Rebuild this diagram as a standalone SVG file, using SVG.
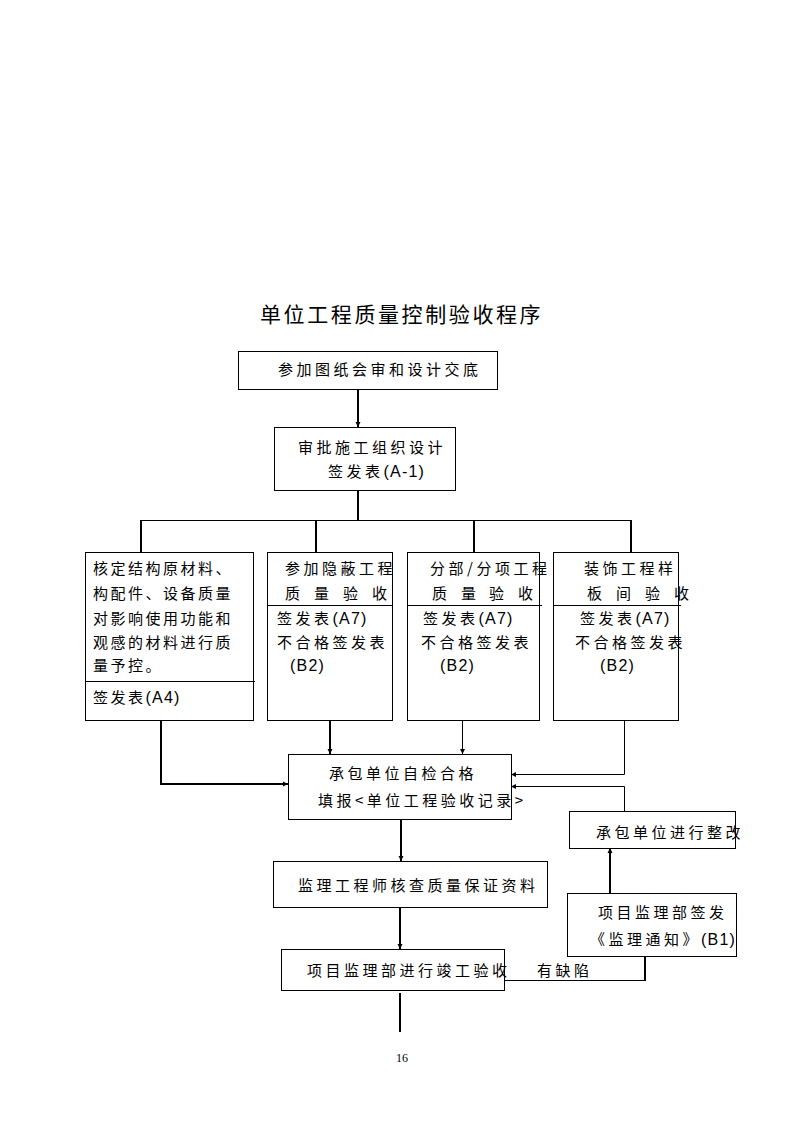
<svg xmlns="http://www.w3.org/2000/svg" width="794" height="1123" viewBox="0 0 794 1123">
<defs>
<style>
.box{fill:#fff;stroke:#000;stroke-width:1}
.t{font-family:"Noto Sans CJK SC","Noto Sans",sans-serif;font-size:15px;letter-spacing:3.5px;fill:#000}
.ta{font-family:"Noto Sans CJK SC","Noto Sans",sans-serif;font-size:15px;letter-spacing:2.5px;fill:#000}
.l{letter-spacing:1.2px;font-family:"Liberation Sans","Noto Sans",sans-serif;font-size:16px}
.title{font-family:"Noto Sans CJK SC","Noto Sans",sans-serif;font-size:21px;letter-spacing:2.6px;fill:#000}
.thick{fill:none;stroke:#000;stroke-width:2}
.thin{fill:none;stroke:#000;stroke-width:1}
.div{stroke:#000;stroke-width:1}
.pg{font-family:"Liberation Serif",serif;font-size:12px;fill:#000}
</style>
<marker id="ah" markerUnits="userSpaceOnUse" markerWidth="6" markerHeight="6" refX="5" refY="3" orient="auto">
<path d="M0,0.5 L5,3 L0,5.5 Z" fill="#000"/>
</marker>
</defs>
<rect width="794" height="1123" fill="#fff"/>
<text class="title" x="260" y="322">单位工程质量控制验收程序</text>

<g id="connectors">
<path class="thick" d="M358 389 V427" marker-end="url(#ah)"/>
<path class="thick" d="M358 490 V520"/>
<path class="thin" d="M141 520.5 H632"/>
<path class="thick" d="M141 520 V552"/>
<path class="thick" d="M316 520 V552"/>
<path class="thick" d="M474 520 V552"/>
<path class="thick" d="M631 520 V552"/>
<path class="thick" d="M161 720 V784 H288" marker-end="url(#ah)"/>
<path class="thick" d="M330 720 V754" marker-end="url(#ah)"/>
<path class="thin" d="M462.5 720 V754" marker-end="url(#ah)"/>
<path class="thin" d="M624.5 720 V774.5 H511" marker-end="url(#ah)"/>
<path class="thin" d="M624.5 811 V786.5 H511" marker-end="url(#ah)"/>
<path class="thick" d="M401 819 V861" marker-end="url(#ah)"/>
<path class="thick" d="M400 907 V949" marker-end="url(#ah)"/>
<path class="thin" d="M504 980.5 H645"/>
<path class="thick" d="M645 981 V956"/>
<path class="thick" d="M610 893 V848" marker-end="url(#ah)"/>
<path class="thick" d="M400 993 V1032"/>
</g>

<g id="n1">
<rect class="box" x="238.5" y="351.5" width="259" height="38"/>
<text class="t" x="278" y="375">参加图纸会审和设计交底</text>
</g>
<g id="n2">
<rect class="box" x="274.5" y="427.5" width="181" height="63"/>
<text class="t" x="298" y="453">审批施工组织设计</text>
<text class="t" x="328" y="477">签发表<tspan class="l">(A-1)</tspan></text>
</g>
<g id="nA">
<rect class="box" x="85.5" y="552.5" width="168" height="168"/>
<line class="div" x1="85" y1="681.5" x2="255" y2="681.5"/>
<text class="ta" x="93" y="574">核定结构原材料、</text>
<text class="ta" x="93" y="599">构配件、设备质量</text>
<text class="ta" x="93" y="624">对影响使用功能和</text>
<text class="ta" x="93" y="648">观感的材料进行质</text>
<text class="ta" x="93" y="671">量予控。</text>
<text class="ta" x="93" y="703">签发表<tspan class="l">(A4)</tspan></text>
</g>
<g id="nB">
<rect class="box" x="267.5" y="552.5" width="125" height="168"/>
<line class="div" x1="267" y1="605.5" x2="393" y2="605.5"/>
<text class="t" x="285" y="574">参加隐蔽工程</text>
<text class="t" x="285 300 314 329 343 358 372" y="599">质 量 验 收</text>
<text class="t" x="277" y="624">签发表<tspan class="l">(A7)</tspan></text>
<text class="t" x="277" y="648">不合格签发表</text>
<text class="t" x="290" y="671"><tspan class="l">(B2)</tspan></text>
</g>
<g id="nC">
<rect class="box" x="407.5" y="552.5" width="132" height="168"/>
<line class="div" x1="407" y1="605.5" x2="542" y2="605.5"/>
<text class="t" x="430" y="574">分部/分项工程</text>
<text class="t" x="432 447 461 475 489 504 518" y="599">质 量 验 收</text>
<text class="t" x="423" y="624">签发表<tspan class="l">(A7)</tspan></text>
<text class="t" x="421" y="648">不合格签发表</text>
<text class="t" x="440" y="671"><tspan class="l">(B2)</tspan></text>
</g>
<g id="nD">
<rect class="box" x="553.5" y="552.5" width="125" height="168"/>
<line class="div" x1="553" y1="605.5" x2="681" y2="605.5"/>
<text class="t" x="584" y="574">装饰工程样</text>
<text class="t" x="587 602 616 631 645 660 674" y="599">板 间 验 收</text>
<text class="t" x="580" y="624">签发表<tspan class="l">(A7)</tspan></text>
<text class="t" x="575" y="648">不合格签发表</text>
<text class="t" x="600" y="671"><tspan class="l">(B2)</tspan></text>
</g>
<g id="nE">
<rect class="box" x="288.5" y="754.5" width="223" height="65"/>
<text class="t" x="329" y="779">承包单位自检合格</text>
<text class="t" x="318" y="806">填报&lt;单位工程验收记录&gt;</text>
</g>
<g id="nG">
<rect class="box" x="569.5" y="811.5" width="166" height="37"/>
<text class="t" x="596" y="838">承包单位进行整改</text>
</g>
<g id="nF">
<rect class="box" x="273.5" y="861.5" width="274" height="46"/>
<text class="t" x="298" y="891">监理工程师核查质量保证资料</text>
</g>
<g id="nH">
<rect class="box" x="567.5" y="893.5" width="169" height="63"/>
<text class="t" x="598" y="918">项目监理部签发</text>
<text class="t" x="590" y="945">《监理通知》<tspan class="l">(B1)</tspan></text>
</g>
<g id="nI">
<rect class="box" x="281.5" y="949.5" width="223" height="41"/>
<text class="t" x="307" y="976">项目监理部进行竣工验收</text>
<text class="t" x="537" y="976">有缺陷</text>
</g>
<text class="pg" x="402" y="1062" text-anchor="middle">16</text>
</svg>
